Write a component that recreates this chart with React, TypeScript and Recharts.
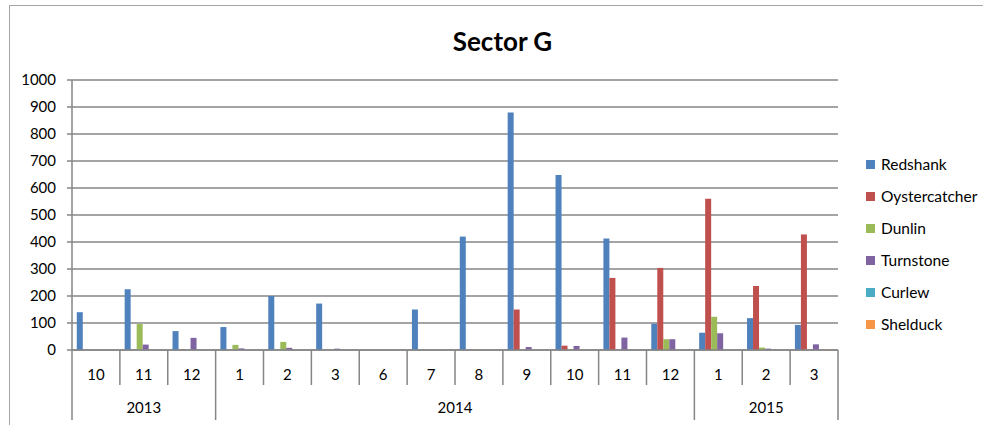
import { BarChart, Bar, XAxis, YAxis, CartesianGrid } from 'recharts';

const years = ['2013', '2013', '2013', '2014', '2014', '2014', '2014', '2014', '2014', '2014', '2014', '2014', '2014', '2015', '2015', '2015'];
const months = ['10', '11', '12', '1', '2', '3', '6', '7', '8', '9', '10', '11', '12', '1', '2', '3'];

const redshank = [140, 225, 70, 85, 200, 172, 0, 150, 420, 880, 648, 413, 97, 64, 118, 93];
const oystercatcher = [0, 0, 2, 0, 0, 0, 0, 0, 0, 150, 16, 267, 304, 560, 237, 428];
const dunlin = [0, 96, 0, 19, 30, 0, 0, 0, 2, 0, 3, 0, 40, 123, 9, 0];
const turnstone = [0, 20, 45, 6, 8, 5, 0, 0, 0, 11, 15, 46, 40, 62, 5, 21];
const curlew = [0, 0, 0, 0, 0, 0, 0, 0, 0, 0, 0, 0, 0, 0, 0, 0];
const shelduck = [0, 0, 0, 0, 0, 0, 0, 0, 0, 0, 0, 0, 0, 0, 0, 2];

const yTicks = [0, 100, 200, 300, 400, 500, 600, 700, 800, 900, 1000];

const SERIES = [
  { key: 'Redshank', values: redshank, color: '#4F81BD' },
  { key: 'Oystercatcher', values: oystercatcher, color: '#C0504D' },
  { key: 'Dunlin', values: dunlin, color: '#9BBB59' },
  { key: 'Turnstone', values: turnstone, color: '#8064A2' },
  { key: 'Curlew', values: curlew, color: '#4BACC6' },
  { key: 'Shelduck', values: shelduck, color: '#F79646' },
];

const data = months.map((m, i) => {
  const row: Record<string, string | number> = { key: `${years[i]}-${m}-${i}`, month: m, year: years[i] };
  SERIES.forEach(s => { row[s.key] = s.values[i]; });
  return row;
});

const FONT = 'Lato, "Open Sans", sans-serif';
const GRID = '#868686';
const PLOT_LEFT = 72;
const PLOT_RIGHT = 838;
const AXIS_Y = 350;
const BW = (PLOT_RIGHT - PLOT_LEFT) / months.length;

function CategoryTick(props: any) {
  const { x, payload } = props;
  const i = payload.index;
  const left = x - BW / 2;
  const right = x + BW / 2;
  const yearStart = i === 0 || years[i - 1] !== years[i];
  const isLast = i === months.length - 1;

  // centre of the year group
  let yearLabel = null;
  if (yearStart) {
    let j = i;
    while (j + 1 < years.length && years[j + 1] === years[i]) j++;
    const cx = left + ((j - i + 1) * BW) / 2;
    yearLabel = (
      <text x={cx} y={413} textAnchor="middle" fontSize={15} fontFamily={FONT} fill="#000">
        {years[i]}
      </text>
    );
  }

  return (
    <g>
      <line x1={left} x2={left} y1={AXIS_Y} y2={yearStart ? 420 : 385} stroke={GRID} strokeWidth={1.5} />
      {isLast && <line x1={right} x2={right} y1={AXIS_Y} y2={420} stroke={GRID} strokeWidth={1.5} />}
      <text x={x} y={380} textAnchor="middle" fontSize={15} fontFamily={FONT} fill="#000">
        {payload.value.split('-')[1]}
      </text>
      {yearLabel}
    </g>
  );
}

export default function App() {
  return (
    <div style={{ position: 'absolute', left: 0, top: 0, width: 983, height: 425, background: '#fff', overflow: 'hidden' }}>
      <div style={{ position: 'absolute', left: 9, top: 5, width: 1000, height: 500, borderLeft: '1.5px solid #a6a6a6', borderTop: '1.5px solid #a6a6a6' }} />
      <div style={{ position: 'absolute', left: 0, width: 983, top: 25, textAlign: 'center', paddingLeft: 22, boxSizing: 'border-box', fontFamily: FONT, fontWeight: 700, fontSize: 26, color: '#000' }}>
        Sector G
      </div>
      <BarChart
        width={983}
        height={425}
        data={data}
        margin={{ top: 80, right: 983 - PLOT_RIGHT, bottom: 5, left: 0 }}
        barCategoryGap="10%"
        barGap={0}
        style={{ position: 'absolute', left: 0, top: 0 }}
      >
        <CartesianGrid vertical={false} stroke={GRID} strokeWidth={1.5} />
        <XAxis
          dataKey="key"
          height={70}
          interval={0}
          tickLine={false}
          axisLine={{ stroke: GRID, strokeWidth: 1.5 }}
          tick={<CategoryTick />}
        />
        <YAxis
          width={PLOT_LEFT}
          domain={[0, 1000]}
          ticks={yTicks}
          interval={0}
          tickSize={5}
          tickMargin={11}
          tickLine={{ stroke: GRID, strokeWidth: 1.5 }}
          axisLine={{ stroke: GRID, strokeWidth: 1.5 }}
          tick={{ fontSize: 15, fontFamily: FONT, fill: '#000' }}
        />
        {SERIES.map(s => (
          <Bar key={s.key} dataKey={s.key} fill={s.color} isAnimationActive={false} />
        ))}
      </BarChart>
      <div style={{ position: 'absolute', left: 866, top: 148, fontFamily: FONT, fontSize: 15.5, color: '#000' }}>
        {SERIES.map(s => (
          <div key={s.key} style={{ display: 'flex', alignItems: 'center', height: 32 }}>
            <span style={{ width: 9, height: 9, background: s.color, marginRight: 6, flex: 'none' }} />
            <span style={{ lineHeight: '18px' }}>{s.key}</span>
          </div>
        ))}
      </div>
    </div>
  );
}
